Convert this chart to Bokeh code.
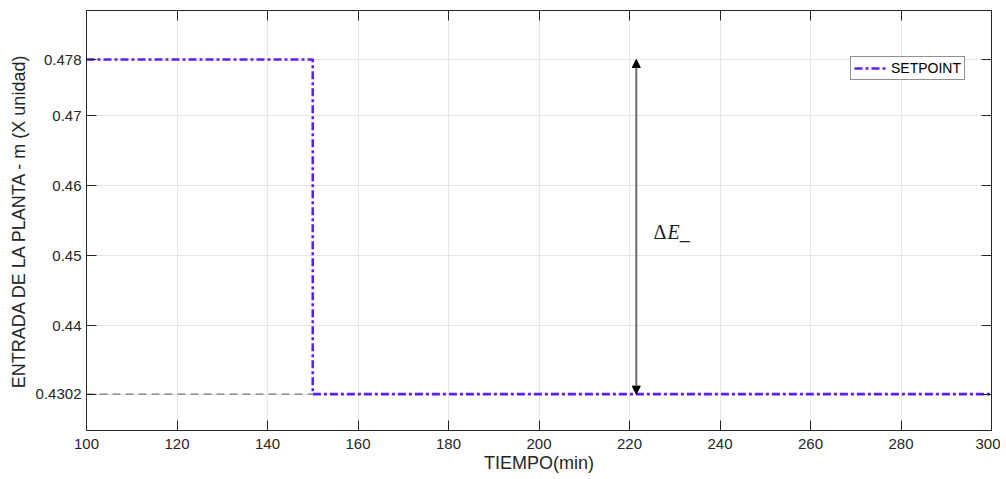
from bokeh.plotting import figure
from bokeh.models import (LinearAxis, FixedTicker, Arrow, NormalHead, Label, Legend, LegendItem, Range1d)
from bokeh.embed import file_html
from bokeh.resources import INLINE

# ---- data ----
time_min = [100, 150, 150, 300]
setpoint = [0.478, 0.478, 0.4302, 0.4302]
ref_time = [100, 150]
ref_level = [0.4302, 0.4302]
arrow_time = 221.5
arrow_low = 0.4302
arrow_high = 0.478
delta_symbol = "Δ"
delta_var = "E_"
delta_pos = (225.3, 0.4533)
x_ticks = [100, 120, 140, 160, 180, 200, 220, 240, 260, 280, 300]
y_ticks = [0.4302, 0.44, 0.45, 0.46, 0.47, 0.478]
y_tick_labels = ["0.4302", "0.44", "0.45", "0.46", "0.47", "0.478"]

FONT = "Liberation Sans"
AX = "#262626"

p = figure(width=1000, height=477, output_backend="svg", toolbar_location=None,
           x_range=Range1d(100, 300), y_range=Range1d(0.425, 0.485),
           min_border_left=86, min_border_right=9, min_border_top=10, min_border_bottom=47)
p.outline_line_color = None
p.background_fill_color = "white"

def style_axis(ax, labels=True):
    ax.axis_line_color = AX
    ax.axis_line_width = 1
    ax.major_tick_line_color = AX
    ax.major_tick_in = 10
    ax.major_tick_out = 0
    ax.minor_tick_line_color = None
    ax.major_label_text_font = FONT
    ax.major_label_text_color = AX
    ax.axis_label_text_font = FONT
    ax.axis_label_text_font_style = "normal"
    ax.axis_label_text_color = AX
    ax.major_label_text_font_size = "15px"
    ax.axis_label_text_font_size = "18px"
    if not labels:
        ax.major_label_overrides = {t: "" for t in ax.ticker.ticks}
        ax.major_label_text_font_size = "1px"
        ax.major_label_standoff = 0

xa = p.xaxis[0]
xa.ticker = FixedTicker(ticks=x_ticks)
xa.axis_label = "TIEMPO(min)"
style_axis(xa)
xa.major_label_standoff = 8
xa.axis_label_standoff = 1

ya = p.yaxis[0]
ya.ticker = FixedTicker(ticks=y_ticks)
ya.major_label_overrides = {t: l for t, l in zip(y_ticks, y_tick_labels)}
ya.axis_label = "ENTRADA DE LA PLANTA - m (X unidad)"
style_axis(ya)
ya.major_label_standoff = 5
ya.axis_label_standoff = 4

top = LinearAxis(ticker=FixedTicker(ticks=x_ticks))
style_axis(top, labels=False)
p.add_layout(top, "above")
right = LinearAxis(ticker=FixedTicker(ticks=y_ticks))
style_axis(right, labels=False)
p.add_layout(right, "right")

p.xgrid.ticker = FixedTicker(ticks=x_ticks)
p.ygrid.ticker = FixedTicker(ticks=y_ticks)
for g in (p.xgrid[0], p.ygrid[0]):
    g.grid_line_color = "#e6e6e6"
    g.grid_line_width = 1

# gray reference dashed line
p.line(ref_time, ref_level, line_color="#5a5a5a", line_width=1, line_dash="8 5")

# setpoint
sp = p.line(time_min, setpoint, line_color="#5a1eff", line_width=2.6, line_dash="8 3 3 3")

# arrow
p.add_layout(Arrow(x_start=arrow_time, y_start=arrow_low, x_end=arrow_time, y_end=arrow_high,
                   line_color="#6b6b6b", line_width=2,
                   start=NormalHead(size=8, fill_color="black", line_color="black"),
                   end=NormalHead(size=8, fill_color="black", line_color="black")))

p.add_layout(Label(x=delta_pos[0], y=delta_pos[1], text=delta_symbol,
                   text_font="Liberation Serif", text_font_style="normal",
                   text_font_size="20px", text_color="#1a1a1a", text_baseline="alphabetic"))
p.add_layout(Label(x=delta_pos[0], y=delta_pos[1], x_offset=14, text=delta_var,
                   text_font="Liberation Serif", text_font_style="italic",
                   text_font_size="20px", text_color="#1a1a1a", text_baseline="alphabetic"))

legend = Legend(items=[LegendItem(label="SETPOINT", renderers=[sp])],
                location=(764, 350), orientation="vertical")
legend.border_line_color = AX
legend.border_line_width = 1
legend.background_fill_alpha = 1
legend.label_text_font = FONT
legend.label_text_font_size = "14px"
legend.label_text_color = "black"
legend.glyph_width = 34
legend.glyph_height = 14
legend.label_standoff = 3
legend.padding = 3
legend.margin = 0
legend.spacing = 0
legend.label_height = 14
p.add_layout(legend, "center")

open("out.html", "w").write(file_html(p, INLINE))
